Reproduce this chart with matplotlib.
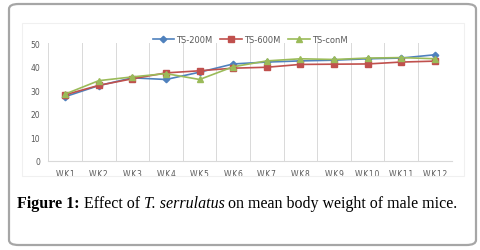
import numpy as np
import matplotlib
matplotlib.use("Agg")
import matplotlib.pyplot as plt
from matplotlib.patches import FancyBboxPatch, Rectangle

weeks = ["WK1", "WK2", "WK3", "WK4", "WK5", "WK6", "WK7", "WK8", "WK9", "WK10", "WK11", "WK12"]
ts_200m = [27.2, 31.9, 35.2, 34.5, 37.6, 41.1, 41.9, 42.4, 42.7, 43.3, 43.6, 45.0]
ts_600m = [28.0, 32.0, 34.8, 37.3, 38.2, 39.3, 39.7, 40.9, 41.0, 41.1, 41.9, 42.3]
ts_conm = [28.3, 34.0, 35.6, 37.0, 34.5, 39.9, 42.4, 43.3, 43.0, 43.6, 43.8, 43.3]

W, H = 481, 251
fig = plt.figure(figsize=(W / 100, H / 100), dpi=100)

# outer rounded frame
fig.patches.append(FancyBboxPatch((9 / W, 1 - 246 / H), 467 / W, 241 / H,
                                  boxstyle="round,pad=0,rounding_size=0.02",
                                  transform=fig.transFigure, fill=False,
                                  edgecolor="#a6a6a6", lw=1.6))
# chart area box
fig.patches.append(Rectangle((22 / W, 1 - 177 / H), 442 / W, 153 / H,
                             transform=fig.transFigure, fill=False,
                             edgecolor="#f0f0f0", lw=0.8))

ax = fig.add_axes([48.3 / W, 1 - 161.7 / H, (451.7 - 48.3) / W, (161.7 - 44) / H])
x = np.arange(len(weeks))
ax.plot(x, ts_200m, color="#4F81BD", marker="D", ms=3.3, lw=1.2, label="TS-200M")
ax.plot(x, ts_600m, color="#C0504D", marker="s", ms=4.0, lw=1.2, label="TS-600M")
ax.plot(x, ts_conm, color="#9BBB59", marker="^", ms=4.3, lw=1.2, label="TS-conM")

ax.set_xlim(-0.5, len(weeks) - 0.5)
ax.set_ylim(0, 50)
ax.set_yticks([0, 10, 20, 30, 40, 50])
ax.set_xticks(x)
ax.set_xticklabels(["\u200a".join(w) for w in weeks])
ax.set_xticks(np.arange(-0.5, len(weeks)), minor=True)
ax.grid(True, which="minor", axis="x", color="#d9d9d9", lw=0.7)
ax.tick_params(which="both", length=0, labelsize=5.5, labelcolor="#595959", pad=6)
for s in ["top", "right", "left"]:
    ax.spines[s].set_visible(False)
ax.spines["bottom"].set_color("#d9d9d9")
ax.spines["bottom"].set_linewidth(0.8)

ax.legend(loc="lower center", bbox_to_anchor=(0.5, 0.96), ncol=3, frameon=False,
          fontsize=6, labelcolor="#595959", handlelength=2.6, columnspacing=1.0,
          handletextpad=0.2, borderaxespad=0)

# caption drawn piece by piece so the species name can be italic
fig.canvas.draw()
renderer = fig.canvas.get_renderer()
parts = [("Figure 1:", "normal", "bold"), (" Effect of ", "normal", "normal"),
         ("T. serrulatus", "italic", "normal"),
         (" on mean body weight of male mice.", "normal", "normal")]
xpos = 17
for txt, style, weight in parts:
    t = fig.text(xpos / W, 1 - 204 / H, txt, fontsize=11.5, family="Liberation Serif",
                 style=style, fontweight=weight, va="center", ha="left")
    xpos += t.get_window_extent(renderer).width

fig.savefig("out.png", dpi=100)
